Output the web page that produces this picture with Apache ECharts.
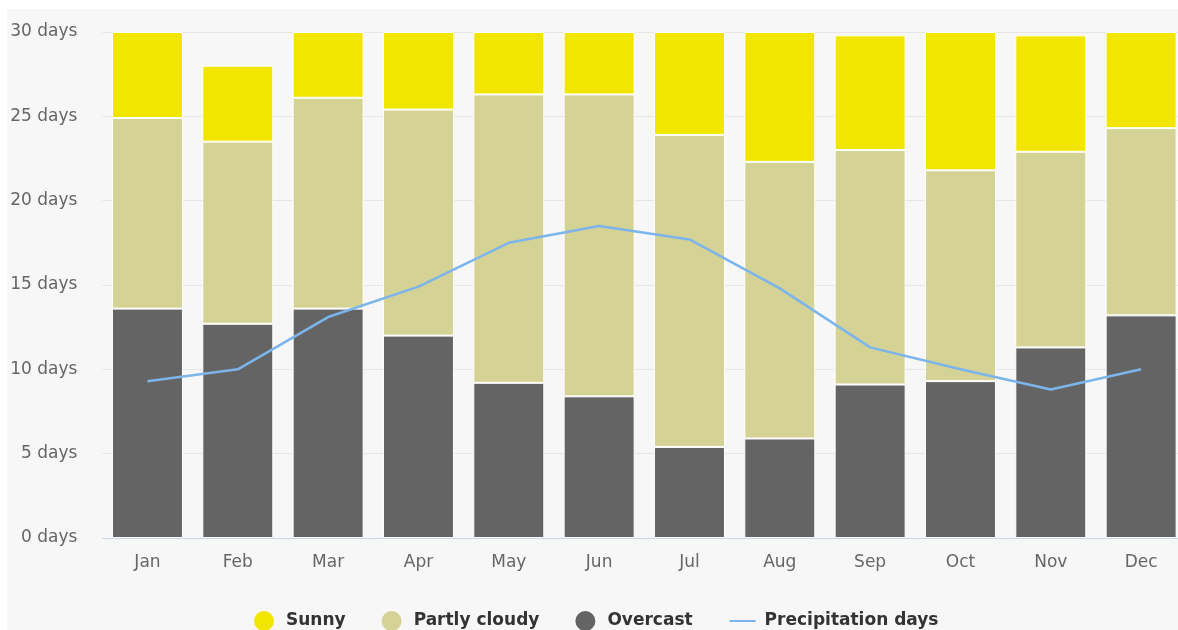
<!DOCTYPE html>
<html><head><meta charset="utf-8">
<script src="https://cdn.jsdelivr.net/npm/echarts@6/dist/echarts.min.js"></script>
<style>
html,body{margin:0;padding:0;background:#fff;width:1178px;height:630px;overflow:hidden}
#c{position:absolute;left:7px;top:9px;width:1171px;height:621px;}
</style></head><body><div id="c"></div>
<script>
const months = ['Jan','Feb','Mar','Apr','May','Jun','Jul','Aug','Sep','Oct','Nov','Dec'];
const overcast = [13.6, 12.7, 13.6, 12.0, 9.2, 8.4, 5.4, 5.9, 9.1, 9.3, 11.3, 13.2];
const partlyCloudy = [11.3, 10.8, 12.5, 13.4, 17.1, 17.9, 18.5, 16.4, 13.9, 12.5, 11.6, 11.1];
const sunny = [5.1, 4.5, 3.9, 4.6, 3.7, 3.7, 6.1, 7.7, 6.8, 8.2, 6.9, 5.7];
const precipitationDays = [9.3, 10.0, 13.1, 14.9, 17.5, 18.5, 17.7, 14.8, 11.3, 10.0, 8.8, 10.0];
const yTicks = [0, 5, 10, 15, 20, 25, 30];

const chart = echarts.init(document.getElementById('c'), null, {renderer: 'canvas'});
const barStyle = (color) => ({color: color, borderColor: '#ffffff', borderWidth: 1});
const legendText = {padding: [0, 0, 0, 4]};
chart.setOption({
  backgroundColor: '#f7f7f7',
  animation: false,
  grid: {left: 95.3, top: 23, width: 1084, bottom: 92, outerBoundsMode: 'none', containLabel: false},
  legend: {
    data: [
      {name: 'Sunny', icon: 'circle', textStyle: legendText},
      {name: 'Partly cloudy', icon: 'circle', textStyle: legendText},
      {name: 'Overcast', icon: 'circle', textStyle: legendText},
      {name: 'Precipitation days', textStyle: legendText}
    ],
    left: 242, top: 597,
    itemWidth: 26, itemHeight: 20, itemGap: 36,
    itemStyle: {borderWidth: 0},
    textStyle: {fontFamily: 'DejaVu Sans', fontWeight: 'bold', fontSize: 17, color: '#333333'}
  },
  xAxis: {
    type: 'category', data: months,
    axisLine: {lineStyle: {color: '#ccd6eb', width: 1}},
    axisTick: {alignWithLabel: true, length: 10, lineStyle: {color: '#ccd6eb'}},
    axisLabel: {color: '#666666', fontFamily: 'DejaVu Sans', fontSize: 17, margin: 16}
  },
  yAxis: {
    type: 'value', min: yTicks[0], max: yTicks[yTicks.length - 1], interval: 5,
    axisLine: {show: false}, axisTick: {show: false},
    splitLine: {lineStyle: {color: '#e6e6e6', width: 1}},
    axisLabel: {color: '#666666', fontFamily: 'DejaVu Sans', fontSize: 17, margin: 25, formatter: '{value} days'}
  },
  series: [
    {name: 'Overcast', type: 'bar', stack: 'w', data: overcast, barWidth: 71, itemStyle: barStyle('#646464')},
    {name: 'Partly cloudy', type: 'bar', stack: 'w', data: partlyCloudy, barWidth: 71, itemStyle: barStyle('#d5d295')},
    {name: 'Sunny', type: 'bar', stack: 'w', data: sunny, barWidth: 71, itemStyle: barStyle('#f2e600')},
    {name: 'Precipitation days', type: 'line', data: precipitationDays, showSymbol: false, symbol: 'none',
     lineStyle: {color: '#7cb5ec', width: 2.5}, itemStyle: {color: 'rgba(0,0,0,0)'}, z: 5}
  ]
});
</script></body></html>
